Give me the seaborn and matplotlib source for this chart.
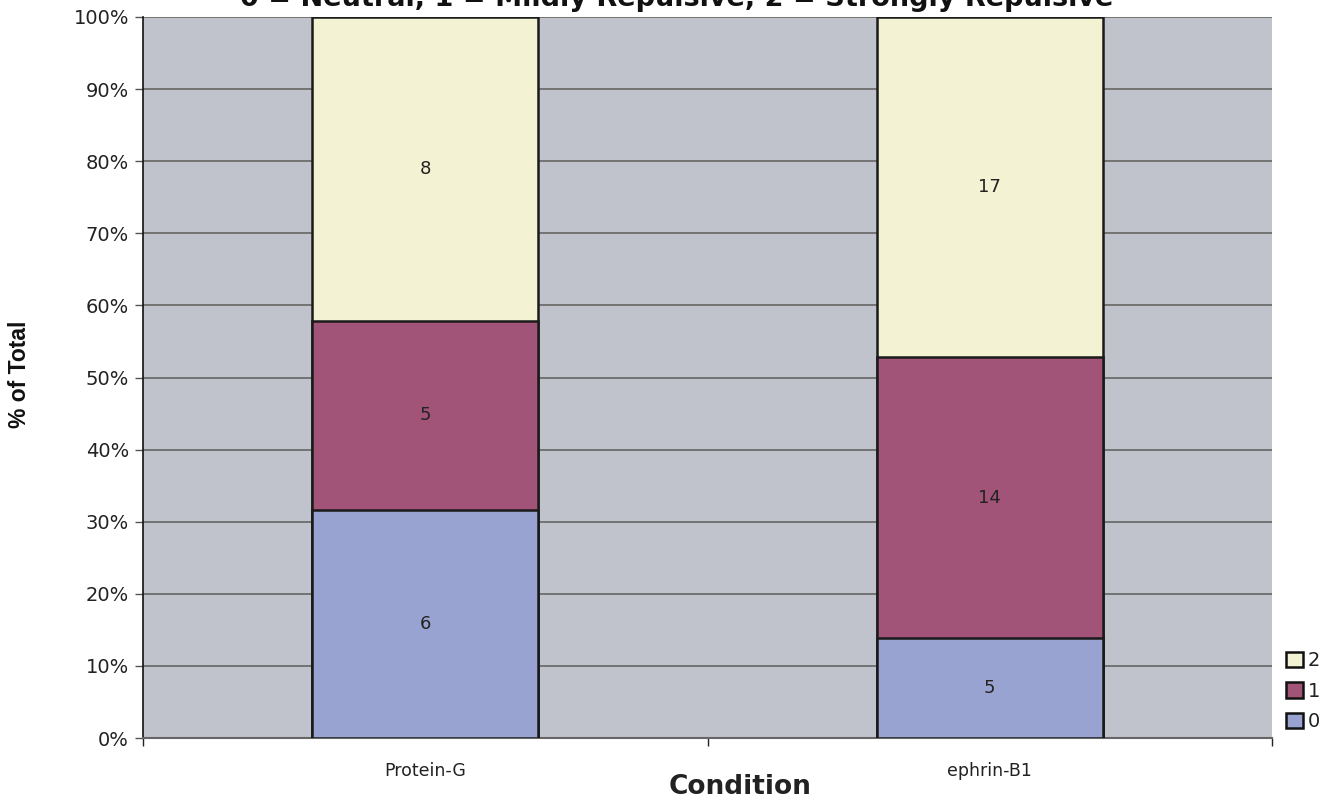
import matplotlib
matplotlib.use("Agg")
import matplotlib.pyplot as plt
import matplotlib.patches as mpatches
from matplotlib import font_manager
from matplotlib.ticker import FixedLocator, PercentFormatter
import numpy as np
import pandas as pd
import seaborn as sns

# Counts per response score for each condition
conditions = ["Protein-G", "ephrin-B1"]
score_labels = ["0", "1", "2"]
counts_0 = [6, 5]
counts_1 = [5, 14]
counts_2 = [8, 17]
score_colors = ["#99A3D1", "#A15477", "#F3F2D2"]

title = "0 = Neutral, 1 = Mildly Repulsive, 2 = Strongly Repulsive"

sns.set_theme(style="white")
plt.rcParams["font.family"] = ["DejaVu Sans"]

# Regular-width Liberation Sans Bold for the y-axis title
ylabel_font = None
for f in font_manager.fontManager.ttflist:
    if (f.name == "Liberation Sans" and "Narrow" not in f.fname
            and f.weight in (700, "bold") and f.style == "normal"):
        ylabel_font = font_manager.FontProperties(fname=f.fname, size=16.5)
        break
if ylabel_font is None:
    ylabel_font = font_manager.FontProperties(family="DejaVu Sans", weight="bold", size=15)

counts = np.array([counts_0, counts_1, counts_2], dtype=float)
totals = counts.sum(axis=0)
pct = counts / totals * 100
cum = np.cumsum(pct, axis=0)

W, H = 1335, 806
fig = plt.figure(figsize=(W / 100, H / 100), dpi=100)
ax = fig.add_axes([143 / W, 68 / H, (1272 - 143) / W, (738 - 17) / H])
ax.set_facecolor("#C0C3CB")

# Stacked bars: draw cumulative heights from the top layer down
for level in [2, 1, 0]:
    df = pd.DataFrame({"Condition": conditions, "pct": cum[level]})
    sns.barplot(data=df, x="Condition", y="pct", color=score_colors[level],
                width=0.4, edgecolor="#1a1a1a", linewidth=1.8,
                saturation=1, ax=ax, zorder=3)

# Segment count labels
for i in range(len(conditions)):
    for level in range(3):
        lo = cum[level][i] - pct[level][i]
        mid = lo + pct[level][i] / 2
        ax.text(i, mid, f"{int(counts[level][i])}", ha="center", va="center",
                fontsize=13, color="#222222", zorder=4)

ax.set_xlim(-0.5, 1.5)
ax.set_ylim(0, 100)
ax.yaxis.set_major_locator(FixedLocator(np.arange(0, 101, 10)))
ax.yaxis.set_major_formatter(PercentFormatter(decimals=0))
ax.grid(axis="y", color="#666666", linewidth=1.2, zorder=0)
ax.set_axisbelow(True)

ax.set_xticks([0, 1])
ax.set_xticklabels(conditions)
ax.xaxis.set_minor_locator(FixedLocator([-0.5, 0.5, 1.5]))
ax.tick_params(axis="x", which="major", length=0, pad=17, labelsize=12.5, colors="#222222")
ax.tick_params(axis="x", which="minor", length=6, width=1, color="#222222", bottom=True)
ax.tick_params(axis="y", which="major", length=6, width=1, color="#555555", left=True,
               labelsize=14, colors="#222222", pad=4)

for side in ["top", "right"]:
    ax.spines[side].set_visible(False)
ax.spines["left"].set_color("#111111")
ax.spines["left"].set_linewidth(1.2)
ax.spines["bottom"].set_color("#666666")
ax.spines["bottom"].set_linewidth(1.5)

ax.set_xlabel("")
ax.set_ylabel("")
fig.text(740 / W, 1 - 787 / H, "Condition", ha="center", va="center",
         fontsize=19, fontweight="bold", color="#222222")
fig.text(20 / W, 1 - 374 / H, "% of Total", ha="center", va="center",
         rotation=90, fontproperties=ylabel_font, color="#111111")
fig.text(677 / W, 1 - 6 / H, title, ha="center", va="baseline",
         fontsize=19.5, fontweight="bold", color="#111111")

handles = [mpatches.Patch(facecolor=score_colors[k], edgecolor="#111111",
                          linewidth=1.8, label=score_labels[k]) for k in [2, 1, 0]]
leg = fig.legend(handles=handles, loc="upper left",
                 bbox_to_anchor=(1286 / W, 1 - 651 / H), bbox_transform=fig.transFigure,
                 frameon=False, fontsize=14, handlelength=0.85, handleheight=0.85,
                 handletextpad=0.25, labelspacing=0.6, borderpad=0, borderaxespad=0)
for t in leg.get_texts():
    t.set_color("#222222")

fig.savefig("out.png", dpi=100)
